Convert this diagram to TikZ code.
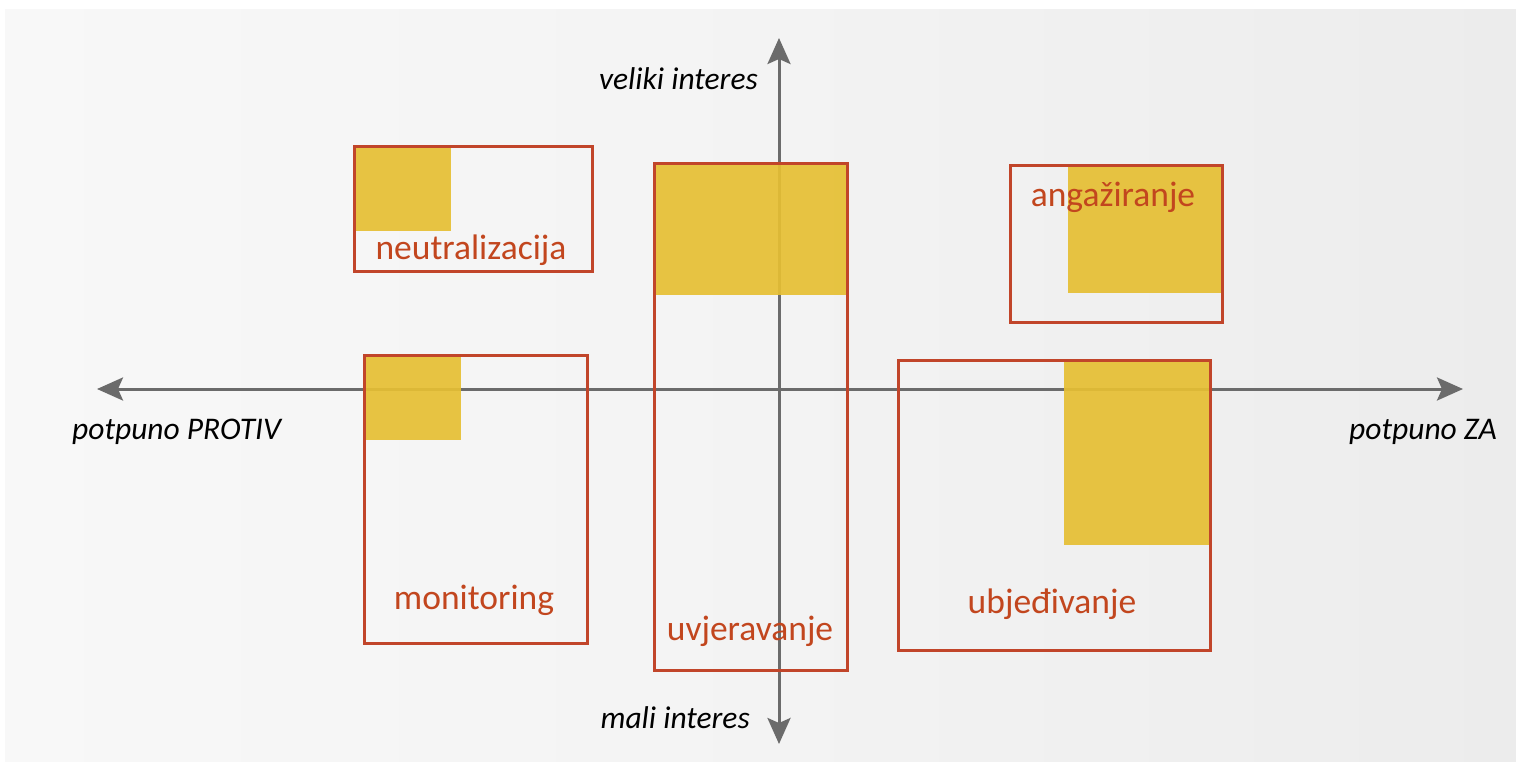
\documentclass[tikz,border=0pt]{standalone}
\usepackage{fontspec}
\setmainfont{Carlito}
\usetikzlibrary{arrows.meta}
\definecolor{axisgray}{HTML}{6B6B6B}
\definecolor{boxred}{HTML}{C1452A}
\definecolor{textred}{HTML}{C2461E}
\definecolor{gold}{HTML}{E6BF33}
\definecolor{bgleft}{HTML}{F8F8F8}
\definecolor{bgright}{HTML}{ECECEC}
\tikzset{
  axisline/.style={draw=axisgray, line width=3pt, -{Stealth[length=26pt,width=23pt,inset=5pt]}},
  axislabel/.style={font=\itshape\fontsize{31.5}{36}\selectfont, text=black, inner sep=0pt},
  framebox/.style={draw=boxred, line width=3pt, fill=none, inner sep=0pt, anchor=north west},
  goldpatch/.style={fill=gold, fill opacity=0.92, draw=none},
  boxlabel/.style={font=\fontsize{35.5}{40}\selectfont, text=textred, inner sep=0pt},
}
\begin{document}
\begin{tikzpicture}[x=1pt,y=-1pt]
  % canvas and backdrop
  \useasboundingbox (0,0) rectangle (1516,761);
  \fill[white] (0,0) rectangle (1516,761);
  \shade[left color=bgleft, right color=bgright, middle color=bgleft!60!bgright] (5,9) rectangle (1516,761);

  % axis end points
  \coordinate (xl) at (97,389);
  \coordinate (xr) at (1463,389);
  \coordinate (yt) at (779,38);
  \coordinate (yb) at (779,744);
  \coordinate (orig) at (779,389);

  % axes
  \draw[axisline] (orig) -- (xl);
  \draw[axisline] (orig) -- (xr);
  \draw[axisline] (orig) -- (yt);
  \draw[axisline] (orig) -- (yb);

  % axis labels
  \node[axislabel, anchor=east] (lbltop) at (758,79) {veliki interes};
  \node[axislabel, anchor=east] (lblbot) at (750,718) {mali interes};
  \node[axislabel, anchor=west] (lblleft) at (72,432) {potpuno PROTIV};
  \node[axislabel, anchor=east] (lblright) at (1497,432) {potpuno ZA};

  % filled portions of each strategy area
  \fill[goldpatch] (353,145) rectangle (451,231);
  \fill[goldpatch] (363,354) rectangle (461,440);
  \fill[goldpatch] (653,162) rectangle (846,295);
  \fill[goldpatch] (1068,164) rectangle (1221,293);
  \fill[goldpatch] (1064,359) rectangle (1209,545);

  % strategy frames
  \node[framebox, minimum width=238pt, minimum height=125pt] (neu) at (352.5,144.5) {};
  \node[framebox, minimum width=223pt, minimum height=288pt] (mon) at (362.5,353.5) {};
  \node[framebox, minimum width=193pt, minimum height=507pt] (uvj) at (652.5,161.5) {};
  \node[framebox, minimum width=212pt, minimum height=157pt] (ang) at (1008.5,163.5) {};
  \node[framebox, minimum width=312pt, minimum height=290pt] (ubj) at (896.5,358.5) {};

  % strategy names
  \node[boxlabel] (tneu) at (471,250) {neutralizacija};
  \node[boxlabel] (tmon) at (474,600) {monitoring};
  \node[boxlabel] (tuvj) at (750,631) {uvjeravanje};
  \node[boxlabel] (tang) at (1113,197) {angažiranje};
  \node[boxlabel] (tubj) at (1052,604) {ubjeđivanje};
\end{tikzpicture}
\end{document}
